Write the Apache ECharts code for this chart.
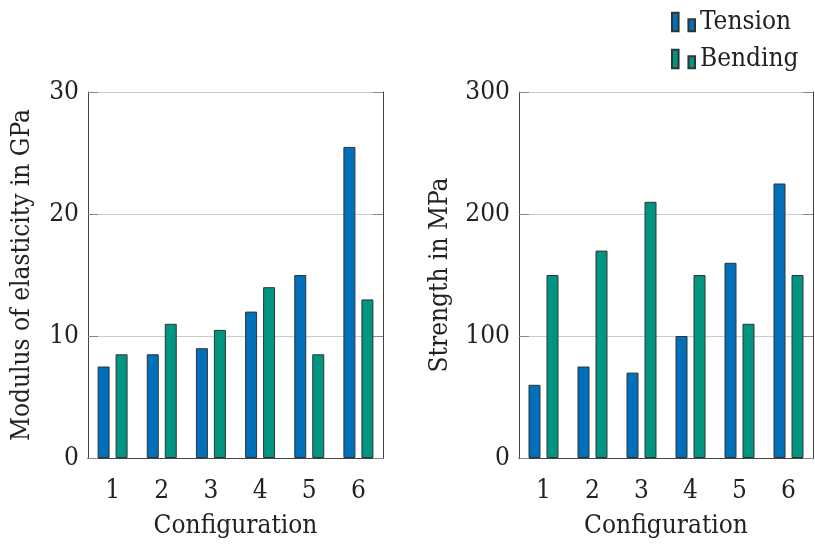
<!DOCTYPE html>
<html>
<head>
<meta charset="utf-8">
<script src="https://cdn.jsdelivr.net/npm/echarts@6/dist/echarts.min.js"></script>
<style>
  html, body { margin: 0; padding: 0; background: #fff; }
  #chart { width: 815px; height: 544px; }
</style>
</head>
<body>
<div id="chart"></div>
<script>
const configs = ['1', '2', '3', '4', '5', '6'];
const modulusTension = [7.5, 8.5, 9, 12, 15, 25.5];
const modulusBending = [8.5, 11, 10.5, 14, 8.5, 13];
const strengthTension = [60, 75, 70, 100, 160, 225];
const strengthBending = [150, 170, 210, 150, 110, 150];

const FONT = '"DejaVu Serif Condensed", "DejaVu Serif", serif';
const FS = 26;
const blue = '#0070bb';
const green = '#009580';
const frame = '#444';

function bottomAxis(gridIndex) {
  return {
    type: 'category', gridIndex, data: configs, position: 'bottom',
    name: 'Configuration', nameLocation: 'middle', nameGap: 55,
    nameTextStyle: { fontFamily: FONT, fontSize: FS, color: '#222' },
    axisLine: { lineStyle: { color: frame, width: 1 } },
    axisTick: { alignWithLabel: true, length: 10, lineStyle: { color: '#888' } },
    axisLabel: { fontFamily: FONT, fontSize: FS, color: '#222', margin: 20 }
  };
}

function topAxis(gridIndex) {
  return {
    type: 'category', gridIndex, data: configs, position: 'top',
    axisLine: { lineStyle: { color: frame, width: 1 } },
    axisTick: { alignWithLabel: true, length: 11, lineStyle: { color: '#888' } },
    axisLabel: { show: false }
  };
}

function leftAxis(gridIndex, max, interval, name, gap) {
  return {
    type: 'value', gridIndex, min: 0, max, interval, position: 'left',
    name, nameLocation: 'middle', nameGap: gap,
    nameTextStyle: { fontFamily: FONT, fontSize: FS, color: '#222' },
    axisLine: { show: true, lineStyle: { color: frame, width: 1 } },
    axisTick: { show: true, inside: true, length: 10, lineStyle: { color: '#888' } },
    splitLine: { lineStyle: { color: '#cccccc' } },
    axisLabel: { fontFamily: FONT, fontSize: FS, color: '#222', margin: 9 }
  };
}

function rightAxis(gridIndex, max, interval) {
  return {
    type: 'value', gridIndex, min: 0, max, interval, position: 'right',
    axisLine: { show: true, lineStyle: { color: frame, width: 1 } },
    axisTick: { show: true, inside: true, length: 10, lineStyle: { color: '#888' } },
    splitLine: { show: false },
    axisLabel: { show: false }
  };
}

function bars(name, data, color, xi, yi) {
  return {
    type: 'bar', name, data, xAxisIndex: xi, yAxisIndex: yi,
    barWidth: 12, barGap: '50%',
    itemStyle: { color, borderColor: '#333', borderWidth: 1 }
  };
}

const chart = echarts.init(document.getElementById('chart'));
chart.setOption({
  animation: false,
  legend: {
    orient: 'vertical', left: 671, top: 9, padding: 0,
    itemWidth: 23, itemHeight: 20, itemGap: 11,
    icon: 'path://M0,0H6V17H0Z M15,6H21V17H15Z',
    textStyle: { fontFamily: FONT, fontSize: FS, color: '#222' },
    data: ['Tension', 'Bending']
  },
  grid: [
    { left: 88, top: 92, width: 295, height: 368 },
    { left: 519, top: 92, width: 294, height: 367 }
  ],
  xAxis: [bottomAxis(0), topAxis(0), bottomAxis(1), topAxis(1)],
  yAxis: [
    leftAxis(0, 30, 10, 'Modulus of elasticity in GPa', 53),
    rightAxis(0, 30, 10),
    leftAxis(1, 300, 100, 'Strength in MPa', 66),
    rightAxis(1, 300, 100)
  ],
  series: [
    bars('Tension', modulusTension, blue, 0, 0),
    bars('Bending', modulusBending, green, 0, 0),
    bars('Tension', strengthTension, blue, 2, 2),
    bars('Bending', strengthBending, green, 2, 2)
  ]
});
</script>
</body>
</html>
